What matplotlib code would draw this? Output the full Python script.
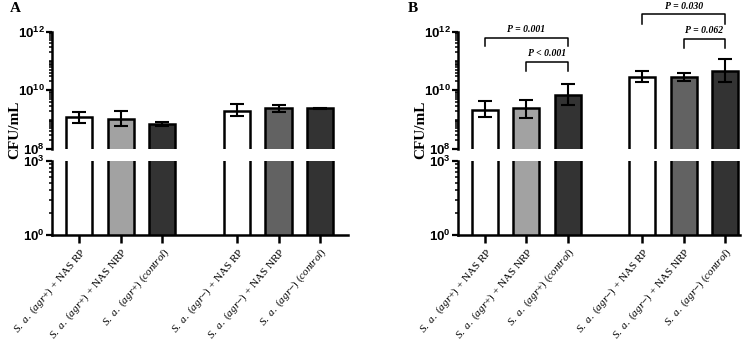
import matplotlib
matplotlib.use('Agg')
import matplotlib.pyplot as plt
import numpy as np
from matplotlib.ticker import FixedLocator, NullFormatter

plt.rcParams['font.family'] = ['Liberation Serif', 'DejaVu Serif']
plt.rcParams['mathtext.fontset'] = 'custom'
plt.rcParams['mathtext.rm'] = 'Liberation Serif'
plt.rcParams['mathtext.it'] = 'Liberation Serif:italic'
plt.rcParams['mathtext.bf'] = 'Liberation Sans:bold'

# categories (x tick labels)
labels = [
    r'$\mathit{S.\ a.\ (agr{+})}$ + NAS RP',
    r'$\mathit{S.\ a.\ (agr{+})}$ + NAS NRP',
    r'$\mathit{S.\ a.\ (agr{+})\ (control)}$',
    r'$\mathit{S.\ a.\ (agr{-})}$ + NAS RP',
    r'$\mathit{S.\ a.\ (agr{-})}$ + NAS NRP',
    r'$\mathit{S.\ a.\ (agr{-})\ (control)}$',
]
bar_colors = ['white', '#a2a2a2', '#333333', 'white', '#626262', '#333333']

# panel A: mean CFU/mL and error bar ends
mean_a = np.array([1.23e9, 1.07e9, 7.1e8, 2.04e9, 2.4e9, 2.4e9])
low_a = np.array([7.9e8, 6.2e8, 6.3e8, 1.32e9, 1.78e9, 2.24e9])
high_a = np.array([1.86e9, 2.0e9, 8.1e8, 3.39e9, 3.16e9, 2.57e9])

# panel B
mean_b = np.array([2.19e9, 2.4e9, 6.9e9, 2.75e10, 2.82e10, 4.57e10])
low_b = np.array([1.2e9, 1.17e9, 3.1e9, 1.86e10, 2.09e10, 1.86e10])
high_b = np.array([4.37e9, 4.79e9, 1.58e10, 4.57e10, 3.98e10, 1.2e11])

# significance brackets for panel B: (bar i, bar j, label)
pairs_b = [(0, 2, r'P = 0.001'), (1, 2, r'P < 0.001'),
           (3, 5, r'P = 0.030'), (4, 5, r'P = 0.062')]
# bracket heights (log10 units): line, leg end
bracket_y = [(11.79, 11.49), (10.97, 10.67), (12.58, 12.27), (11.76, 11.45)]

xpos = np.array([0, 1, 2, 3.8, 4.8, 5.8])
W, H = 756, 341


def draw_panel(fig, left, right, xlim, means, lows, highs, letter, letter_x, ylab_x, pairs=None):
    l = left / W
    w = (right - left) / W
    ax_top = fig.add_axes([l, 1 - 149 / H, w, (149 - 31.5) / H])
    ax_bot = fig.add_axes([l, 1 - 235 / H, w, (235 - 161) / H])

    for ax, bottom in ((ax_top, 1), (ax_bot, 0.1)):
        ax.bar(xpos, means, width=0.63, bottom=bottom, color=bar_colors,
               edgecolor='black', linewidth=1.8)
        ax.set_yscale('log')
        ax.set_xlim(*xlim)
        for s in ('top', 'right'):
            ax.spines[s].set_visible(False)
        ax.spines['left'].set_linewidth(1.8)
        ax.spines['bottom'].set_linewidth(1.8)
        ax.tick_params(axis='y', which='major', length=4, width=1.6, pad=1,
                       labelsize=9.5)
        ax.tick_params(axis='y', which='minor', length=2.5, width=1.1)

    ax_top.errorbar(xpos, means, yerr=[means - lows, highs - means], fmt='none',
                    ecolor='black', elinewidth=1.5, capsize=5, capthick=1.5)
    ax_top.set_ylim(1e8, 1e12)
    ax_top.spines['bottom'].set_visible(False)
    ax_top.set_xticks([])
    ax_top.set_yticks([1e8, 1e10, 1e12])
    ax_top.set_yticklabels([r'$\mathbf{10^{8}}$', r'$\mathbf{10^{10}}$', r'$\mathbf{10^{12}}$'])
    minors = [k * 10.0 ** n for n in range(8, 12) for k in range(1, 10)
              if not (k == 1 and n in (8, 10))]
    ax_top.yaxis.set_minor_locator(FixedLocator(minors))
    ax_top.yaxis.set_minor_formatter(NullFormatter())

    ax_bot.set_ylim(1, 1000)
    ax_bot.set_yticks([1, 1000])
    ax_bot.set_yticklabels([r'$\mathbf{10^{0}}$', r'$\mathbf{10^{3}}$'])
    ax_bot.yaxis.set_minor_locator(FixedLocator([k ** 3 for k in range(2, 10)]))
    ax_bot.yaxis.set_minor_formatter(NullFormatter())
    ax_bot.set_xticks(xpos)
    ax_bot.set_xticklabels(labels, rotation=50, ha='right', rotation_mode='anchor',
                           fontsize=8)
    ax_bot.tick_params(axis='x', length=6, width=1.8, pad=1.5)

    fig.text(ylab_x / W, 1 - 130 / H, 'CFU/mL', rotation=90, fontsize=11,
             fontweight='bold', ha='center', va='center')
    fig.text(letter_x / W, 1 - 9 / H, letter, fontsize=11, fontweight='bold',
             ha='center', va='center')

    if pairs:
        for (i, j, txt), (yl, yleg) in zip(pairs, bracket_y):
            x0, x1 = xpos[i], xpos[j]
            ax_top.plot([x0, x0, x1, x1], [10 ** yleg, 10 ** yl, 10 ** yl, 10 ** yleg],
                        color='black', lw=1.1, clip_on=False)
            ax_top.text((x0 + x1) / 2, 10 ** (yl + 0.28), txt, ha='center', va='center',
                        fontsize=7, fontweight='bold', style='italic', clip_on=False)


fig = plt.figure(figsize=(W / 100, H / 100), dpi=100)
draw_panel(fig, 52, 348, (-0.65, 6.47), mean_a, low_a, high_a, 'A', 15, 15)
draw_panel(fig, 458, 740, (-0.65, 6.16), mean_b, low_b, high_b, 'B', 413, 421, pairs_b)
fig.savefig('out.png', dpi=100)
